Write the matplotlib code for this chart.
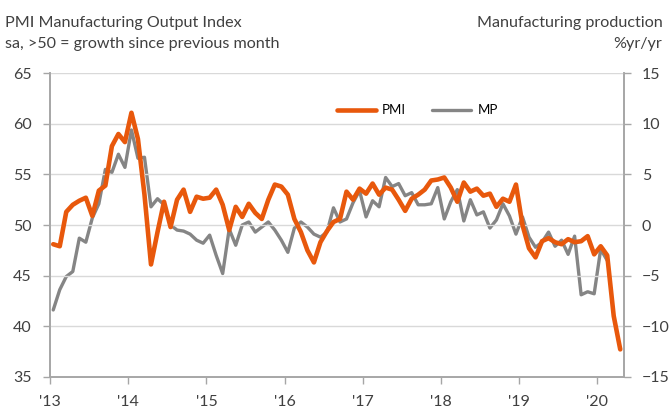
import matplotlib
matplotlib.use("Agg")
import matplotlib.pyplot as plt
import numpy as np

plt.rcParams["font.family"] = ["Lato", "DejaVu Sans"]

# monthly data, Jan 2013 onwards
pmi = [48.1, 47.9, 51.3, 52.0, 52.4, 52.7, 50.9, 53.4, 53.9, 57.8, 59.0, 58.2,
       61.1, 58.5, 53.0, 46.1, 49.3, 52.3, 49.8, 52.5, 53.5, 51.3, 52.8, 52.6,
       52.7, 53.5, 52.0, 49.5, 51.8, 50.8, 52.1, 51.2, 50.6, 52.5, 54.0, 53.8,
       53.0, 50.6, 49.3, 47.5, 46.3, 48.3, 49.4, 50.3, 50.6, 53.3, 52.5, 53.6,
       53.1, 54.1, 53.0, 53.7, 53.5, 52.5, 51.4, 52.6, 53.0, 53.5, 54.4, 54.5,
       54.7, 53.7, 52.3, 54.2, 53.3, 53.6, 52.9, 53.1, 51.8, 52.6, 52.3, 54.0,
       50.0, 47.7, 46.8, 48.4, 48.7, 48.3, 48.1, 48.6, 48.3, 48.4, 48.9, 47.1,
       47.9, 47.0, 41.0, 37.7]

# manufacturing production, %yr/yr
mp = [-8.4, -6.4, -5.1, -4.6, -1.3, -1.7, 0.7, 2.1, 5.5, 5.2, 7.0, 5.7,
      9.4, 6.6, 6.7, 1.8, 2.6, 2.0, 0.0, -0.5, -0.6, -0.9, -1.5, -1.8,
      -1.0, -3.0, -4.8, -0.4, -2.0, 0.0, 0.3, -0.7, -0.2, 0.3, -0.5, -1.5,
      -2.7, -0.3, 0.3, -0.2, -0.9, -1.2, -0.7, 1.7, 0.3, 0.6, 2.2, 3.4,
      0.8, 2.4, 1.8, 4.7, 3.8, 4.1, 2.9, 3.2, 2.0, 2.0, 2.1, 3.7,
      0.6, 2.3, 3.5, 0.4, 2.5, 1.0, 1.3, -0.3, 0.5, 2.1, 0.9, -0.9,
      0.8, -1.2, -2.2, -1.7, -0.7, -2.1, -1.5, -2.9, -1.1, -6.9, -6.6, -6.8,
      -2.4, -3.5]

years = [2013, 2014, 2015, 2016, 2017, 2018, 2019, 2020]
year_labels = ["'13", "'14", "'15", "'16", "'17", "'18", "'19", "'20"]

x_pmi = 2013 + (np.arange(len(pmi)) + 0.5) / 12
x_mp = 2013 + (np.arange(len(mp)) + 0.5) / 12

fig = plt.figure(figsize=(6.69, 4.12), dpi=100)
ax = fig.add_axes([0.0747, 0.0857, 0.8576, 0.7363])
ax2 = ax.twinx()

orange = "#E8580C"
grey = "#858585"
axis_col = "#A6A6A6"

ax.plot(x_pmi, pmi, color=orange, lw=3.3, solid_joinstyle="round",
        solid_capstyle="round", zorder=3, label="PMI")
ax2.plot(x_mp, mp, color=grey, lw=2.4, solid_joinstyle="round",
         solid_capstyle="round", label="MP")
ax.set_zorder(ax2.get_zorder() + 1)
ax.patch.set_visible(False)

ax.set_xlim(2013, 2020.336)
ax.set_ylim(35, 65)
ax2.set_ylim(-15, 15)
ax.set_yticks(np.arange(35, 66, 5))
ax2.set_yticks(np.arange(-15, 16, 5))
ax.set_xticks(years)
ax.set_xticklabels(year_labels)

ax.grid(axis="y", color="#D9D9D9", lw=1)
for a in (ax, ax2):
    a.spines["top"].set_visible(False)
    for s in ("left", "right", "bottom"):
        a.spines[s].set_color(axis_col)
        a.spines[s].set_linewidth(1.2)
    a.tick_params(colors="#404040", labelsize=11.5, length=5, color=axis_col, width=1)
ax.tick_params(axis="x", pad=8)
ax.tick_params(axis="y", pad=8)
ax2.tick_params(axis="y", pad=8)

# legend drawn from the two lines
h1, l1 = ax.get_legend_handles_labels()
h2, l2 = ax2.get_legend_handles_labels()
ax.legend(h1 + h2, l1 + l2, loc="upper left", bbox_to_anchor=(0.48, 0.937),
          ncol=2, frameon=False, fontsize=9.5, handlelength=2.9,
          columnspacing=2.0, handletextpad=0.5)

tc = "#404040"
fs = 11.6
fig.text(0.007, 0.945, "PMI Manufacturing Output Index", fontsize=fs, color=tc, va="center")
fig.text(0.007, 0.893, "sa, >50 = growth since previous month", fontsize=fs, color=tc, va="center")
fig.text(0.99, 0.945, "Manufacturing production", fontsize=fs, color=tc, va="center", ha="right")
fig.text(0.99, 0.893, "%yr/yr", fontsize=fs, color=tc, va="center", ha="right")

fig.savefig("out.png", dpi=100)
